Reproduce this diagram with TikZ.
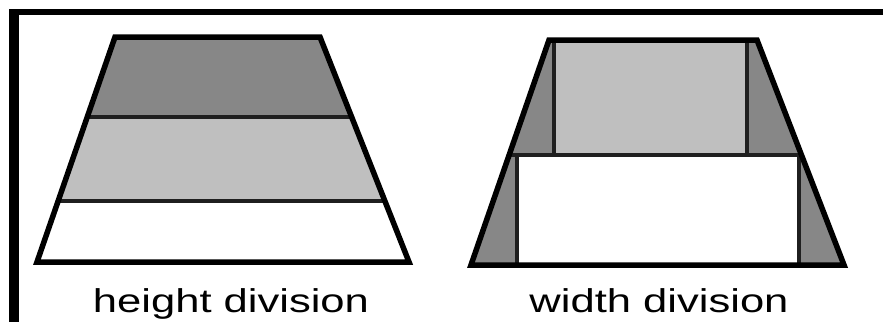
\documentclass[tikz,border=0pt]{standalone}
\usepackage{fontspec}
\setmainfont{Liberation Sans}
\usetikzlibrary{calc}
\begin{document}
\begin{tikzpicture}[x=1pt,y=-1pt,
  outline/.style={line width=5.5pt, line join=miter, draw=black},
  divline/.style={line width=3.5pt, draw=black!88},
  darkfill/.style={fill={rgb,255:red,135;green,135;blue,135}},
  lightfill/.style={fill={rgb,255:red,191;green,191;blue,191}},
  caption/.style={anchor=base, inner sep=0pt, font=\fontsize{33}{36}\selectfont}]
\useasboundingbox (0,0) rectangle (883,322);
\fill[white] (0,0) rectangle (883,322);
% frame
\draw[line width=6pt] (9,12) -- (883,12);
\draw[line width=10pt] (14,9) -- (14,322);
% left trapezoid: height division
\coordinate (A1) at (115,37);
\coordinate (A2) at (320,37);
\coordinate (A3) at (409,262);
\coordinate (A4) at (37,262);
\coordinate (L1) at ($(A1)!0.3556!(A4)$);
\coordinate (R1) at ($(A2)!0.3556!(A3)$);
\coordinate (L2) at ($(A1)!0.7289!(A4)$);
\coordinate (R2) at ($(A2)!0.7289!(A3)$);
\path[darkfill] (A1) -- (A2) -- (R1) -- (L1) -- cycle;
\path[lightfill] (L1) -- (R1) -- (R2) -- (L2) -- cycle;
\path[fill=white] (L2) -- (R2) -- (A3) -- (A4) -- cycle;
\draw[divline] (L1) -- (R1);
\draw[divline] (L2) -- (R2);
\draw[outline] (A1) -- (A2) -- (A3) -- (A4) -- cycle;
% right trapezoid: width division
\coordinate (B1) at (549,40);
\coordinate (B2) at (757,40);
\coordinate (B3) at (844,265);
\coordinate (B4) at (471,265);
\coordinate (M1) at ($(B1)!0.5111!(B4)$);
\coordinate (M2) at ($(B2)!0.5111!(B3)$);
\path[darkfill] (B1) -- (B2) -- (B3) -- (B4) -- cycle;
\path[lightfill] (554,40) rectangle (747,155);
\path[fill=white] (517,155) rectangle (799,265);
\draw[divline] (M1) -- (M2);
\draw[divline] (554,40) -- (554,155);
\draw[divline] (747,40) -- (747,155);
\draw[divline] (517,155) -- (517,265);
\draw[divline] (799,155) -- (799,265);
\draw[outline] (B1) -- (B2) -- (B3) -- (B4) -- cycle;
% captions
\node[caption] (hcap) at (231,312) {\scalebox{1.32}[1]{height division}};
\node[caption] (wcap) at (659,312) {\scalebox{1.32}[1]{width division}};
\end{tikzpicture}
\end{document}
